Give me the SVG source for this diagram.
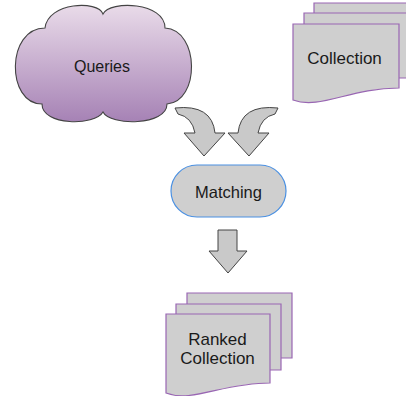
<svg xmlns="http://www.w3.org/2000/svg" width="406" height="396" viewBox="0 0 406 396">
<defs>
<linearGradient id="cloudGrad" x1="0" y1="0" x2="0" y2="1">
<stop offset="0" stop-color="#e9dbe9"/>
<stop offset="1" stop-color="#a682b5"/>
</linearGradient>
<style>
.lbl{font-family:"Liberation Sans",Arial,Helvetica,sans-serif;fill:#1a1a1a;text-anchor:middle}
.doc{fill:#cfcfcf;stroke:#9966b3;stroke-width:1.2}
.arrow{fill:#c9c9c9;stroke:#444;stroke-width:1;stroke-linejoin:round}
</style>
</defs>
<rect width="406" height="396" fill="#ffffff"/>

<g id="queries">
<path d="M45,28 C48,2 98,0 103,14 C110,0 165,2 165,28 C200,30 200,102 167,104 C167,126 110,126 103,112 C95,126 42,126 42,104 C6,104 6,28 45,28 Z" fill="url(#cloudGrad)" stroke="#444" stroke-width="1.1"/>
<text class="lbl" x="102" y="71.5" font-size="16">Queries</text>
</g>

<g id="collection">
<path class="doc" d="M314,3 H410 V70 H314 Z"/>
<path class="doc" d="M304,13 H410 V78 H304 Z"/>
<path class="doc" d="M293,24 H399 V88 C350,88 320,110 293,100 Z"/>
<text class="lbl" x="344.5" y="64" font-size="17">Collection</text>
</g>

<g id="matching">
<rect x="171" y="165" width="115" height="52" rx="26" ry="26" fill="#cfcfcf" stroke="#4a90e2" stroke-width="1.2"/>
<text class="lbl" x="228.5" y="197.5" font-size="16.5">Matching</text>
</g>

<g id="ranked">
<path class="doc" d="M187,293 H292 V358 H187 Z"/>
<path class="doc" d="M176,304 H281 V370 H176 Z"/>
<path class="doc" d="M166,314 H270 V383 C222,383 192,403 166,393 Z"/>
<text class="lbl" x="217.5" y="345" font-size="17">Ranked</text>
<text class="lbl" x="217.5" y="364" font-size="17">Collection</text>
</g>

<g id="connectors">
<path class="arrow" d="M175,108 Q212,104 215,133 L225,133 L204,156 L184,133 L195,133 Q192,117 178,114 Z"/>
<path class="arrow" d="M278,108 Q241,104 238,133 L228,133 L249,156 L269,133 L258,133 Q261,117 275,114 Z"/>
<path class="arrow" d="M218,230 H237 V251 H247 L228,273 L209,251 H218 Z"/>
</g>
</svg>
